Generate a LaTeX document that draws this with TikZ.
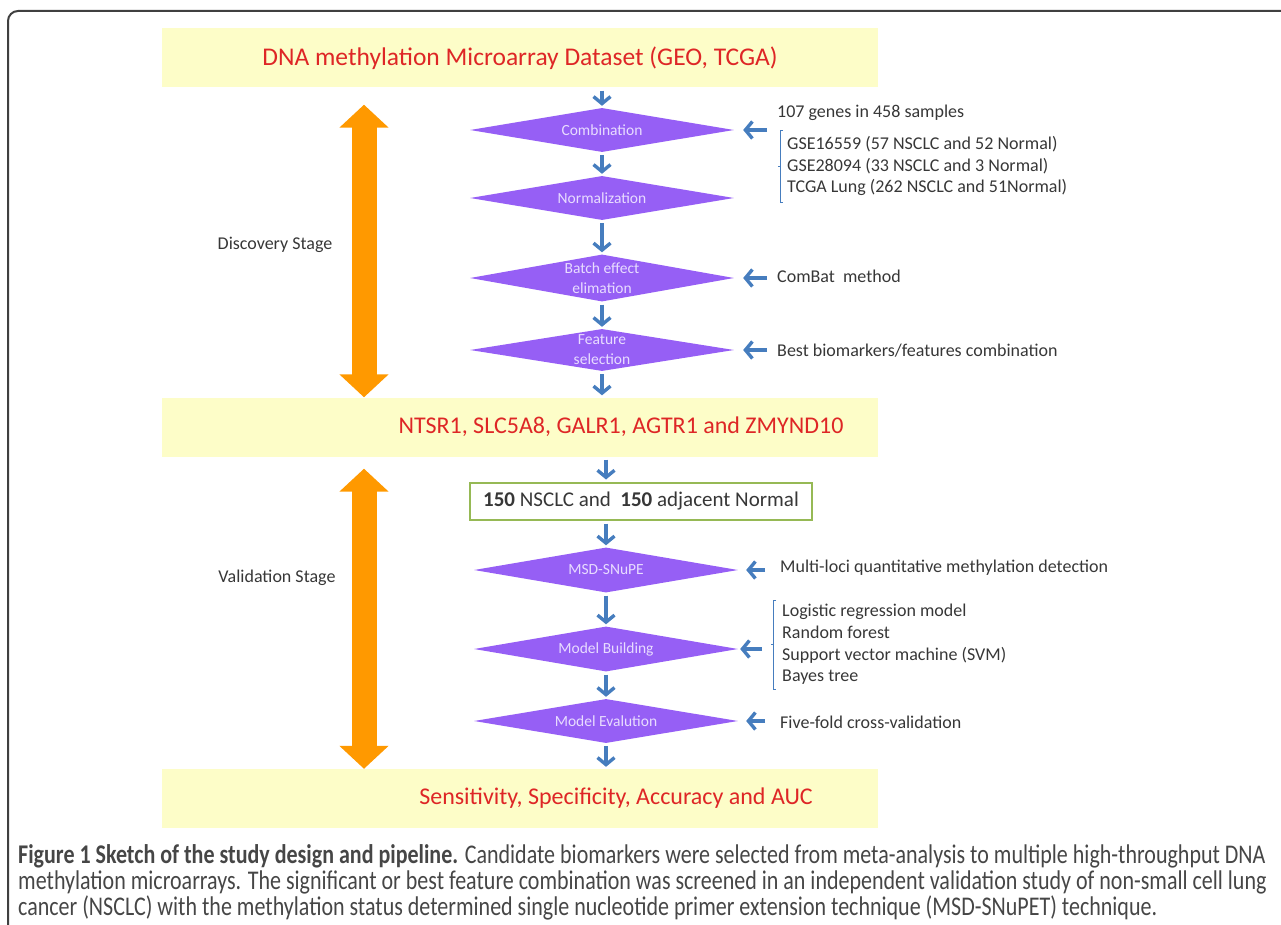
\documentclass[tikz,border=0pt]{standalone}
\usepackage{fontspec}
\setmainfont{Carlito}
\newfontfamily\capfont[FakeStretch=0.815]{Carlito}
\usetikzlibrary{arrows.meta,positioning,shapes.geometric,calc}
\definecolor{bandfill}{RGB}{253,253,200}
\definecolor{bandred}{RGB}{222,38,38}
\definecolor{stepfill}{RGB}{150,95,245}
\definecolor{steptext}{RGB}{232,220,255}
\definecolor{flowblue}{RGB}{70,125,190}
\definecolor{stagefill}{RGB}{255,153,0}
\definecolor{boxgreen}{RGB}{150,185,85}
\definecolor{notegrey}{RGB}{55,55,55}
\definecolor{capgrey}{RGB}{70,70,70}
\tikzset{>={Straight Barb[length=7pt,width=17pt]}}

\begin{document}
\begin{tikzpicture}[x=1pt, y=-1pt,
    band/.style={fill=bandfill, minimum width=716pt, minimum height=59pt, inner sep=0pt, text=bandred, font=\fontsize{25.5}{28}\selectfont},
    bandlabel/.style={text=bandred, font=\fontsize{24}{28}\selectfont},
    stepshape/.style={diamond, fill=stepfill, inner sep=0pt, minimum width=264pt},
    steplabel/.style={text=steptext, font=\fontsize{15.5}{20}\selectfont, align=center},
    flow/.style={->, draw=flowblue, line width=3.4pt, shorten <=3pt, shorten >=2pt},
    note/.style={anchor=west, inner sep=0pt, text=notegrey, font=\fontsize{18}{21.7}\selectfont, align=left},
    brace/.style={draw=flowblue, line width=0.8pt},
    stagearrow/.style={draw=stagefill, line width=25pt, {Triangle[length=23pt,width=48pt]}-{Triangle[length=23pt,width=48pt]}},
    stagelabel/.style={text=notegrey, font=\fontsize{18}{21}\selectfont}]
    \useasboundingbox (0,0) rectangle (1281,925);
    % frame of the figure
    \draw[line width=2pt, draw=black!75, rounded corners=10pt] (1283,11) -- (8,11) -- (8,927);

    % result bands
    \node[band] (top) at (520,58) {DNA methylation Microarray Dataset (GEO, TCGA)};
    \node[band, label={[bandlabel, xshift=101pt]center:NTSR1, SLC5A8, GALR1, AGTR1 and ZMYND10}] (genes) at (520,427) {};
    \node[band, label={[bandlabel, xshift=96pt]center:Sensitivity, Specificity, Accuracy and AUC}] (perf) at (520,798.5) {};

    % pipeline steps
    \foreach \nm/\xx/\yy/\hh/\txt in {comb/602/130/44/Combination, norm/602/198/44/Normalization,
        batch/602/278/47/{Batch effect\\elimation}, feat/602/350/42/{Feature\\selection},
        msd/606/570/45/MSD-SNuPE, build/606/649/45/Model Building, eval/606/721/44/Model Evalution}
        \node[stepshape, minimum height=\hh pt, label={[steplabel]center:\txt}] (\nm) at (\xx,\yy) {};

    \node[draw=boxgreen, line width=2pt, fill=white, minimum width=342pt, minimum height=37pt,
        text=notegrey, font=\fontsize{21}{24}\selectfont] (cases) at (641,501)
        {\textbf{150} NSCLC and \ \textbf{150} adjacent Normal};

    \draw[flow] (top.south -| comb) -- (comb);
    \draw[flow] (comb) -- (norm);
    \draw[flow] (norm) -- (batch);
    \draw[flow] (batch) -- (feat);
    \draw[flow] (feat) -- (genes.north -| feat);
    \draw[flow] (genes.south -| msd) -- (cases.north -| msd);
    \draw[flow] (cases.south -| msd) -- (msd);
    \draw[flow] (msd) -- (build);
    \draw[flow] (build) -- (eval);
    \draw[flow] (eval) -- (perf.north -| eval);

    % side notes
    \node[note] (pool) at (777,113) {107 genes in 458 samples};
    \node[note] (sets) at (787,166) {GSE16559 (57 NSCLC and 52 Normal)\\GSE28094 (33 NSCLC and 3 Normal)\\TCGA Lung (262 NSCLC and 51Normal)};
    \node[note] (combat) at (777,276) {ComBat \ method};
    \node[note] (best) at (777,351) {Best biomarkers/features combination};
    \node[note] (loci) at (780,568) {Multi-loci quantitative methylation detection};
    \node[note] (models) at (782,644.5) {Logistic regression model\\Random forest\\Support vector machine (SVM)\\Bayes tree};
    \node[note] (cv) at (780,722) {Five-fold cross-validation};

    \foreach \src/\dst/\gap/\tip in {pool/comb/10pt/9pt, combat/batch/10pt/9pt, best/feat/10pt/9pt,
        loci/msd/15pt/8pt, models/build/20pt/2pt, cv/eval/15pt/8pt}
        \draw[flow, shorten <=\gap, shorten >=\tip] (\dst.east -| \src.west) -- (\dst.east);

    \draw[brace] ($(sets.north west)+(-4,-6)$) -- ++(-3,0) |- ($(sets.south west)+(-4,6)$);
    \draw[brace] ($(sets.west)+(-7,0)$) -- ++(-2,0);
    \draw[brace] ($(models.north west)+(-6,-4)$) -- ++(-3,0) |- ($(models.south west)+(-6,4)$);
    \draw[brace] ($(models.west)+(-9,0)$) -- ++(-2,0);

    % stages
    \coordinate (stagex) at (364,0);
    \draw[stagearrow] ([yshift=-17pt]top.south -| stagex) -- (genes.north -| stagex);
    \draw[stagearrow] ([yshift=-12pt]genes.south -| stagex) -- (perf.north -| stagex);
    \node[stagelabel] (disc) at (275,245) {Discovery Stage};
    \node[stagelabel] (vali) at (277,578) {Validation Stage};

    % caption
    \node[anchor=north west, inner sep=0pt, align=left, text=capgrey, font=\capfont\fontsize{27}{26}\selectfont] (cap) at (18,844)
        {\textbf{Figure 1 Sketch of the study design and pipeline.} Candidate biomarkers were selected from meta-analysis to multiple high-throughput DNA\\
        methylation microarrays. The significant or best feature combination was screened in an independent validation study of non-small cell lung\\
        cancer (NSCLC) with the methylation status determined single nucleotide primer extension technique (MSD-SNuPET) technique.};
\end{tikzpicture}
\end{document}
